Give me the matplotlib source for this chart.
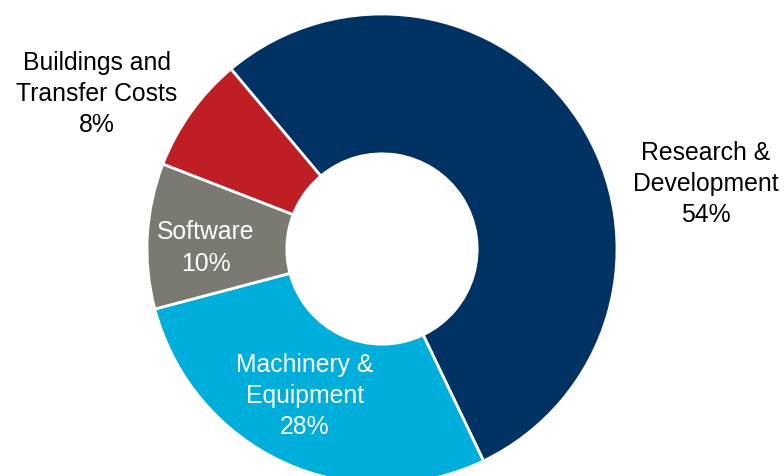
import matplotlib
matplotlib.use("Agg")
import matplotlib.pyplot as plt

# ─── data ───
categories = ["Research &\nDevelopment", "Machinery &\nEquipment", "Software",
              "Buildings and\nTransfer Costs"]
shares = [54, 28, 10, 8]
colors = ["#003263", "#00AEDB", "#7A7A73", "#BE1E24"]

plt.rcParams["font.family"] = ["Liberation Sans", "DejaVu Sans"]

fig = plt.figure(figsize=(7.84, 4.76), dpi=100)
ax = fig.add_axes([0, 0, 1, 1])

# pixel-like coordinates, y up
cx, cy, r = 382, 476 - 249, 235
wedges, _ = ax.pie(shares, colors=colors, startangle=130, counterclock=False,
                   center=(cx, cy), radius=r, frame=True,
                   wedgeprops=dict(width=r * 0.595, edgecolor="white", linewidth=2))
ax.set_xlim(0, 784)
ax.set_ylim(0, 476)
ax.set_aspect("equal")
ax.axis("off")

# label spots (x, y in pixels from top-left) and text colour
label_pos = [(706, 184), (305, 396), (206, 248), (97, 94)]
label_col = ["black", "white", "white", "black"]
for name, val, (lx, ly), c in zip(categories, shares, label_pos, label_col):
    ax.text(lx, 476 - ly, f"{name}\n{val}%", ha="center", va="center",
            fontsize=17.8, color=c, linespacing=1.38)

fig.savefig("out.png", dpi=100)
